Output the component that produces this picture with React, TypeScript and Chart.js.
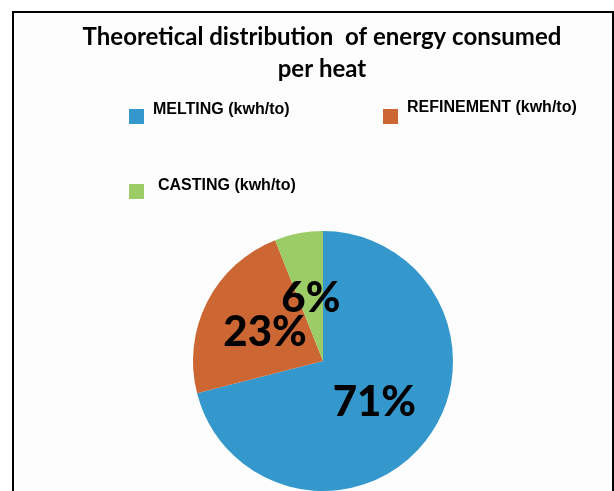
import React, { useEffect, useRef } from "react";
import { Chart, registerables } from "chart.js";

Chart.register(...registerables);

const categories = ["MELTING (kwh/to)", "REFINEMENT (kwh/to)", "CASTING (kwh/to)"];
const values = [71, 23, 6];
const titleLines = ["Theoretical distribution  of energy consumed", "per heat"];

const sliceColors = ["#3598cc", "#cc6633", "#9bcc66"];

// layout of the hand-placed legend (box top-left, text baseline start)
const legendLayout = [
  { bx: 129, by: 109, tx: 153, ty: 114 },
  { bx: 383, by: 109, tx: 407, ty: 112 },
  { bx: 129, by: 184, tx: 158, ty: 190 },
];

const framePlugin = {
  id: "frame",
  beforeDraw(chart: any) {
    const ctx = chart.ctx;
    ctx.save();
    ctx.fillStyle = "#ffffff";
    ctx.fillRect(0, 0, chart.width, chart.height);
    ctx.fillStyle = "#fdfdfd";
    ctx.fillRect(13, 12, 600, chart.height);
    ctx.strokeStyle = "#000000";
    ctx.lineWidth = 2;
    ctx.strokeRect(13, 12, 600, chart.height + 20);
    ctx.restore();
  },
  afterDatasetsDraw(chart: any) {
    const ctx = chart.ctx;
    const meta = chart.getDatasetMeta(0);
    const data = chart.data.datasets[0].data as number[];
    const total = data.reduce((a, b) => a + b, 0);
    ctx.save();
    ctx.fillStyle = "#000000";
    ctx.font = "900 42px Lato";
    ctx.textAlign = "center";
    ctx.textBaseline = "alphabetic";
    meta.data.forEach((arc: any, i: number) => {
      const p = arc.tooltipPosition();
      const txt = Math.round((data[i] / total) * 100) + "%";
      ctx.fillText(txt, p.x, p.y + 15);
    });
    ctx.restore();
  },
  afterDraw(chart: any) {
    const ctx = chart.ctx;
    ctx.save();
    // title
    ctx.fillStyle = "#000000";
    ctx.font = "bold 24px Lato";
    ctx.textAlign = "center";
    ctx.textBaseline = "alphabetic";
    ctx.fillText(titleLines[0], 322, 45);
    ctx.fillText(titleLines[1], 322, 77);
    // legend
    const labels = chart.data.labels as string[];
    const colors = chart.data.datasets[0].backgroundColor as string[];
    ctx.textAlign = "left";
    ctx.font = "bold 16px 'Liberation Sans'";
    labels.forEach((lab, i) => {
      const L = legendLayout[i];
      ctx.fillStyle = colors[i];
      ctx.fillRect(L.bx, L.by, 15, 15);
      ctx.fillStyle = "#000000";
      ctx.fillText(lab, L.tx, L.ty);
    });
    ctx.restore();
  },
};

export default function App() {
  const ref = useRef<HTMLCanvasElement | null>(null);
  useEffect(() => {
    if (!ref.current) return;
    const chart = new Chart(ref.current, {
      type: "pie",
      data: {
        labels: categories,
        datasets: [
          {
            data: values,
            backgroundColor: sliceColors,
            borderWidth: 0,
          },
        ],
      },
      options: {
        responsive: false,
        animation: false,
        devicePixelRatio: 1,
        rotation: 0,
        layout: { padding: { left: 193, right: 161, top: 231, bottom: 0 } },
        plugins: {
          legend: { display: false },
          tooltip: { enabled: false },
          title: { display: false },
        },
      },
      plugins: [framePlugin],
    });
    return () => chart.destroy();
  }, []);
  return (
    <div style={{ position: "fixed", left: 0, top: 0, width: 614, height: 491, overflow: "hidden", background: "#fff" }}>
      <canvas ref={ref} width={614} height={491} style={{ display: "block", width: 614, height: 491 }} />
    </div>
  );
}
